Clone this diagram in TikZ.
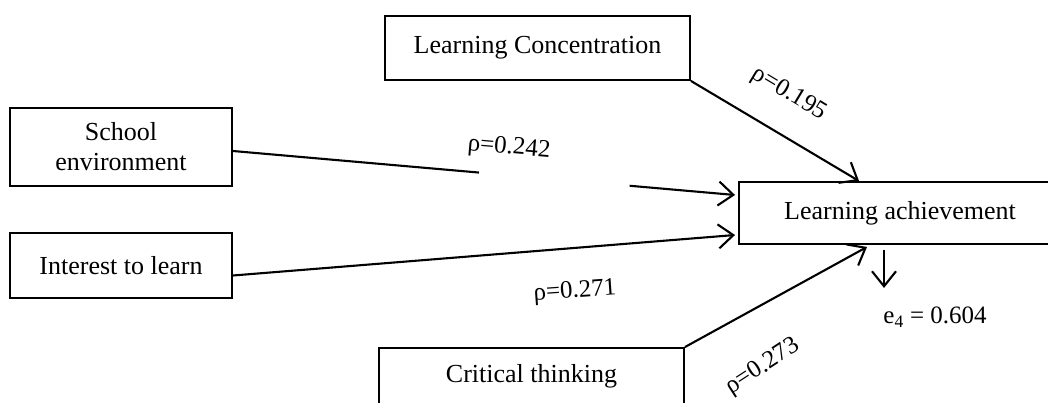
\documentclass[tikz,border=0pt]{standalone}
\usepackage{fontspec}
\setmainfont{Liberation Serif}
\usetikzlibrary{arrows.meta,calc}
\begin{document}
\begin{tikzpicture}[x=1pt,y=-1pt,
  box/.style={draw, line width=1.9pt, inner sep=0pt, align=center,
              font=\fontsize{26}{30}\selectfont},
  wire/.style={line width=2.1pt},
  link/.style={wire, -{Straight Barb[length=15pt,width=24pt,line width=2.1pt]}},
  coef/.style={font=\fontsize{25}{30}\selectfont, inner sep=0pt}]
\clip (0,0) rectangle (1048,403);

% variables
\node[box, minimum width=305pt, minimum height=64pt] (lc) at (537.5,48) {Learning Concentration};
\node[box, minimum width=222pt, minimum height=78pt] (se) at (121,147) {School\\environment};
\node[box, minimum width=222pt, minimum height=65pt] (il) at (121,265.5) {Interest to learn};
\node[box, minimum width=322pt, minimum height=62pt] (la) at (900,213) {Learning achievement};
\node[box, minimum width=305pt, minimum height=56pt] (ct) at (531.5,376) {Critical thinking};

% attachment points on the boxes
\coordinate (seO) at ([yshift=-4pt]se.east);
\coordinate (ilO) at ([yshift=-10pt]il.east);
\coordinate (laT1) at ([xshift=121pt]la.north west);
\coordinate (laW1) at ([yshift=18pt,xshift=-3pt]la.west);
\coordinate (laW2) at ([yshift=-22pt,xshift=-3pt]la.west);
\coordinate (laB1) at ([xshift=-33pt,yshift=-2pt]la.south);
\coordinate (laB2) at ([xshift=-16pt,yshift=-5pt]la.south);
\coordinate (eTip) at ([yshift=-38pt]laB2);

% paths
\draw[link] (lc.south east) -- (laT1);
\coordinate (g1) at ($(seO)!0.49!(laW1)$);
\coordinate (g2) at ($(seO)!0.79!(laW1)$);
\draw[wire] (seO) -- (g1);
\draw[link] (g2) -- (laW1);
\draw[link] (ilO) -- (laW2);
\draw[link] (ct.north east) -- (laB1);
\draw[link] (laB2) -- (eTip);

% coefficients
\node[coef, rotate=-31] (c1) at (789,94) {ρ=0.195};
\node[coef, rotate=-5] (c2) at (509,148) {ρ=0.242};
\node[coef, rotate=4] (c3) at (575,292) {ρ=0.271};
\node[coef, rotate=33] (c4) at (763,367) {ρ=0.273};
\node[coef] (e4) at (935,317) {e\textsubscript{4} = 0.604};
\end{tikzpicture}
\end{document}
